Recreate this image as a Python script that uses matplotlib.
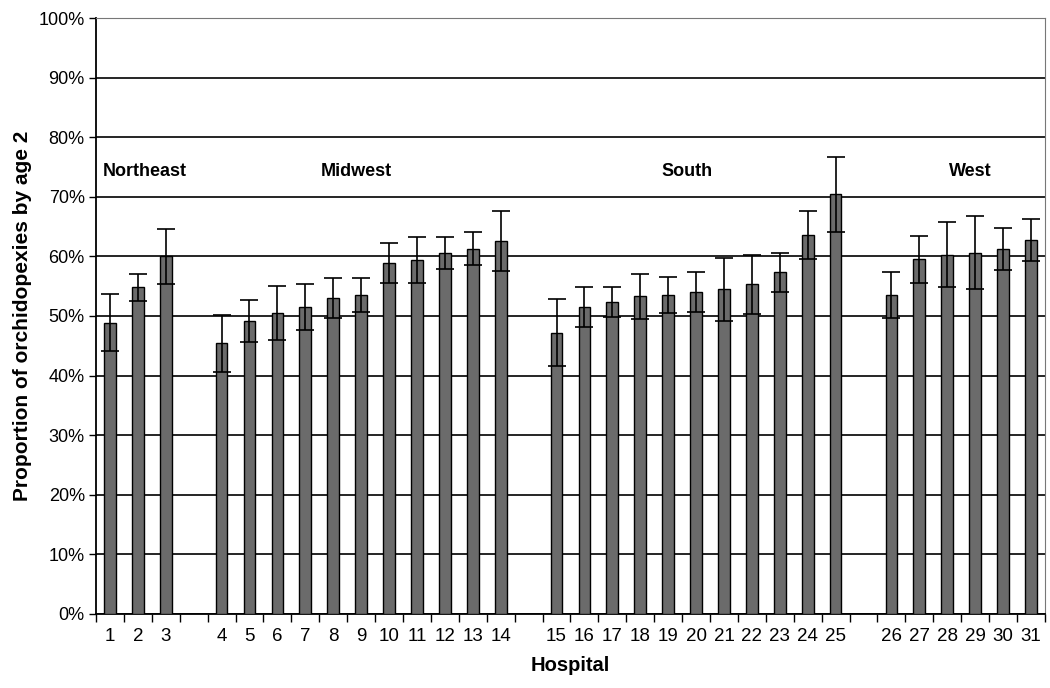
import matplotlib
matplotlib.use("Agg")
import matplotlib.pyplot as plt
import numpy as np

plt.rcParams['font.family'] = ['Liberation Sans', 'DejaVu Sans']

# ------------------------ Data ----------------------------
hospitals = ["1", "2", "3", "", "4", "5", "6", "7", "8", "9", "10", "11", "12", "13", "14", "",
             "15", "16", "17", "18", "19", "20", "21", "22", "23", "24", "25", "",
             "26", "27", "28", "29", "30", "31"]
proportion = [48.9, 54.8, 60.0, None, 45.4, 49.2, 50.5, 51.5, 53.0, 53.5, 58.9, 59.4, 60.6, 61.3, 62.6, None,
              47.2, 51.5, 52.3, 53.3, 53.5, 54.0, 54.5, 55.3, 57.3, 63.6, 70.4, None,
              53.5, 59.5, 60.3, 60.6, 61.3, 62.8]
error = [4.8, 2.2, 4.6, None, 4.8, 3.5, 4.5, 3.8, 3.3, 2.8, 3.3, 3.8, 2.7, 2.8, 5.0, None,
         5.6, 3.3, 2.5, 3.8, 3.0, 3.3, 5.3, 5.0, 3.3, 4.0, 6.3, None,
         3.8, 3.9, 5.4, 6.1, 3.5, 3.5]
regions = ["Northeast", "Midwest", "South", "West"]
region_pos = [-0.25, 8.84, 20.67, 30.84]

# ------------------------ Plot ----------------------------
fig = plt.figure(figsize=(10.5, 6.88), dpi=100)
ax = fig.add_axes([0.0914, 0.1076, 0.9038, 0.8662])

x = np.arange(len(hospitals))
keep = [i for i, v in enumerate(proportion) if v is not None]
vals = [proportion[i] for i in keep]
errs = [error[i] for i in keep]

ax.bar(x[keep], vals, width=0.42, color="#6b6b6b", edgecolor="black", linewidth=1.0, zorder=3)
ax.errorbar(x[keep], vals, yerr=errs, fmt="none", ecolor="black", elinewidth=1.2,
            capsize=6.5, capthick=1.2, zorder=4)

for name, pos in zip(regions, region_pos):
    ha = "left" if name == "Northeast" else "center"
    ax.text(pos, 74.3, name, ha=ha, va="center", fontsize=13, fontweight="bold")

ax.set_xlim(-0.5, len(hospitals) - 0.5)
ax.set_ylim(0, 100)
ax.set_yticks(np.arange(0, 101, 10))
ax.set_yticklabels([f"{v}%" for v in range(0, 101, 10)], fontsize=13)
ax.yaxis.grid(True, color="black", linewidth=1.2, zorder=0)
ax.set_axisbelow(True)

ax.set_xticks(x)
ax.set_xticklabels(hospitals, fontsize=13.5)
ax.tick_params(axis="x", which="major", length=0, pad=10)
ax.set_xticks(np.arange(-0.5, len(hospitals) + 0.5, 1), minor=True)
ax.tick_params(axis="x", which="minor", length=6, width=1, direction="out")
ax.tick_params(axis="y", length=5, width=1, direction="out", pad=3)

for side in ["left", "bottom"]:
    ax.spines[side].set_linewidth(1.3)
ax.spines["top"].set_color("#777777")
ax.spines["right"].set_color("#777777")

ax.set_xlabel("Hospital", fontsize=14.5, fontweight="bold")
ax.xaxis.set_label_coords(0.5, -0.07)
ax.set_ylabel("Proportion of orchidopexies by age 2", fontsize=15, fontweight="bold", labelpad=5)

plt.savefig("out.png", dpi=100)
